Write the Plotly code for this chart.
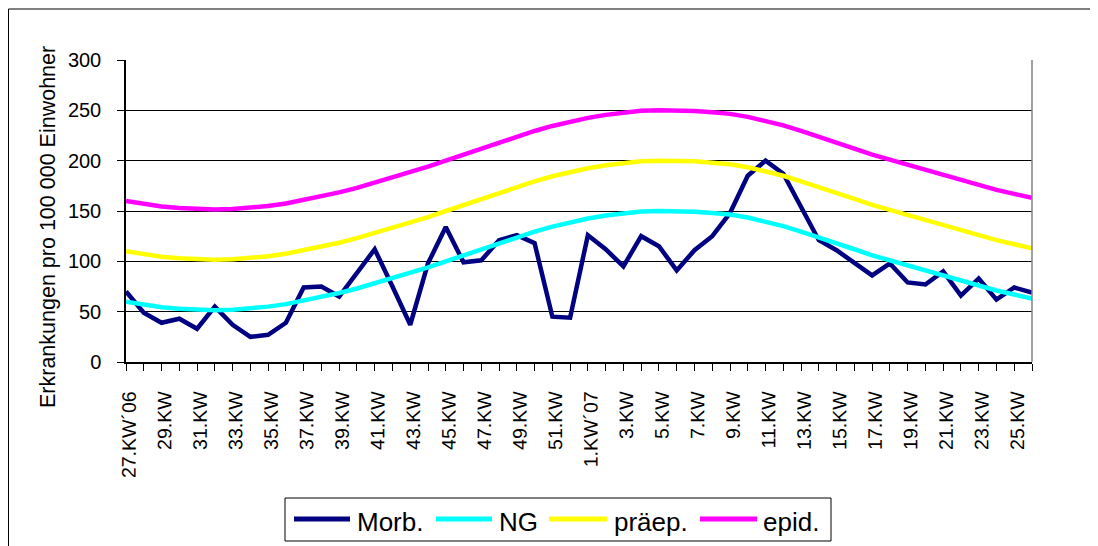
import plotly.graph_objects as go

# Calendar weeks 27/2006 .. 26/2007
weeks_2006 = ["27.KW´06"] + [f"{w}.KW" for w in range(28, 53)]
weeks_2007 = ["1.KW´07"] + [f"{w}.KW" for w in range(2, 27)]
categories = weeks_2006 + weeks_2007

# Tick labels: every second week is labelled
tick_text = [c if i % 2 == 0 else "" for i, c in enumerate(categories)]

morb = [70, 49, 39, 43, 33, 55, 37, 25, 27, 39, 74, 75, 65, 89, 112, 75, 37, 98,
        134, 99, 101, 121, 126, 118, 45, 44, 126, 112, 95, 125, 115, 91, 111, 125,
        148, 185, 200, 187, 155, 121, 111, 98, 86, 98, 79, 77, 90, 66, 83, 62, 74, 69]

ng = [60, 57, 54.5, 53, 52, 51.5, 52, 53, 55, 57.5, 61, 64.5, 68.5, 73, 78, 83, 88.5,
      94, 100, 106, 112, 118, 124, 129.5, 134.5, 139, 142.5, 145.5, 148, 149.5, 150,
      150, 149.3, 148, 146.5, 143.5, 139.5, 135, 129.5, 124, 118, 112, 106, 101,
      95.5, 90, 85, 80, 75.5, 71, 67, 63]

praep = [110, 107, 104.5, 103, 102, 101.5, 102, 103, 105, 107.5, 111, 114.5, 118.5,
         123, 128, 133, 138.5, 144, 150, 156, 162, 168, 174, 179.5, 184.5, 189, 192.5,
         195.5, 198, 199.5, 200, 200, 199.3, 198, 196.5, 193.5, 189.5, 185, 179.5,
         174, 168, 162, 156, 151, 145.5, 140, 135, 130, 125.5, 121, 117, 113]

epid = [160, 157, 154.5, 153, 152, 151.5, 152, 153, 155, 157.5, 161, 164.5, 168.5,
        173, 178, 183, 188.5, 194, 200, 206, 212, 218, 224, 229.5, 234.5, 239, 242.5,
        245.5, 248, 249.5, 250, 250, 249.3, 248, 246.5, 243.5, 239.5, 235, 229.5,
        224, 218, 212, 206, 201, 195.5, 190, 185, 180, 175.5, 171, 167, 163]

series_names = ["Morb.", "NG", "präep.", "epid."]
series_colors = ["#000080", "#00FFFF", "#FFFF00", "#FF00FF"]
series_values = [morb, ng, praep, epid]

FONT = "Arial, Liberation Sans, sans-serif"
W, H = 1090, 538
L, R, T, B = 118, 66, 52, 184
PW, PH = W - L - R, H - T - B


def px_x(p):
    return (p - L) / PW


def px_y(p):
    return (H - B - p) / PH


fig = go.Figure()
for name, color, vals in zip(series_names, series_colors, series_values):
    fig.add_trace(go.Scatter(
        x=categories, y=vals, name=name, mode="lines",
        line=dict(color=color, width=4.5),
    ))

shapes = [
    # plot area border (right side in grey)
    dict(type="line", xref="paper", yref="paper", x0=1, x1=1, y0=0, y1=1,
         line=dict(color="#808080", width=1.5)),
    # outer chart frame (left and top edges)
    dict(type="line", xref="paper", yref="paper",
         x0=px_x(0.5), x1=px_x(0.5), y0=px_y(1), y1=px_y(560),
         line=dict(color="black", width=1)),
    dict(type="line", xref="paper", yref="paper",
         x0=px_x(0.5), x1=px_x(1110), y0=px_y(1), y1=px_y(1),
         line=dict(color="black", width=1)),
    # legend box
    dict(type="rect", xref="paper", yref="paper",
         x0=px_x(277), x1=px_x(823), y0=px_y(490), y1=px_y(533),
         line=dict(color="black", width=1), fillcolor="white"),
]
annotations = [dict(
    text="Erkrankungen pro 100 000 Einwohner",
    x=px_x(40), y=px_y(219), xref="paper", yref="paper",
    xanchor="center", yanchor="middle",
    textangle=-90, showarrow=False,
    font=dict(size=21.5, family=FONT, color="black"),
)]

# legend entries (line sample + text)
legend_line_x = [(286, 342), (428, 484), (541, 599), (692, 749)]
legend_text_x = [347, 489, 604, 753]
for name, color, (a, b), tx in zip(series_names, series_colors, legend_line_x, legend_text_x):
    shapes.append(dict(type="line", xref="paper", yref="paper",
                       x0=px_x(a), x1=px_x(b), y0=px_y(511), y1=px_y(511),
                       line=dict(color=color, width=5)))
    annotations.append(dict(text=name, x=px_x(tx), y=px_y(514),
                            xref="paper", yref="paper", xanchor="left",
                            yanchor="middle", showarrow=False,
                            font=dict(size=26, family=FONT, color="black")))

fig.update_layout(
    width=W, height=H,
    margin=dict(l=L, r=R, t=T, b=B),
    paper_bgcolor="white", plot_bgcolor="white",
    font=dict(family=FONT, color="black", size=19),
    showlegend=False,
    xaxis=dict(
        type="category", range=[0, len(categories) - 1],
        tickmode="array", tickvals=categories, ticktext=tick_text,
        tickangle=-89.9, ticks="outside", ticklen=7, tickcolor="black",
        showline=True, linecolor="black", linewidth=1.5,
        showgrid=False, tickfont=dict(size=19.5, family=FONT),
        ticklabelstandoff=7,
    ),
    yaxis=dict(
        range=[0, 300], dtick=50, ticks="outside", ticklen=7, tickcolor="black",
        showline=True, linecolor="black", linewidth=1.5,
        showgrid=True, gridcolor="black", gridwidth=1,
        zeroline=False, tickfont=dict(size=20, family=FONT),
        ticklabelstandoff=12,
    ),
    annotations=annotations,
    shapes=shapes,
)

fig.write_html("out.html")
